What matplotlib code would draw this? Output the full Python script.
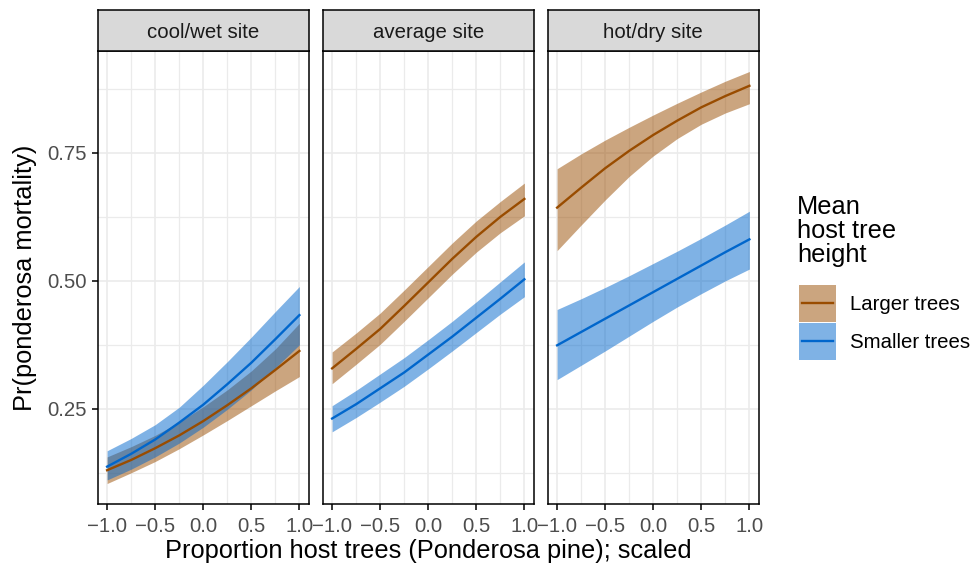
import matplotlib
matplotlib.use("Agg")
import matplotlib.pyplot as plt
from matplotlib.patches import Rectangle
from matplotlib.lines import Line2D

plt.rcParams['font.family'] = ['Liberation Sans', 'DejaVu Sans']

# proportion host trees (scaled)
x = [-1.0, -0.75, -0.5, -0.25, 0.0, 0.25, 0.5, 0.75, 1.0]
sites = ["cool/wet site", "average site", "hot/dry site"]

# Larger trees: fit, lower, upper per site
large_fit = [
    [0.130, 0.150, 0.173, 0.198, 0.226, 0.257, 0.290, 0.326, 0.363],
    [0.329, 0.367, 0.406, 0.451, 0.497, 0.543, 0.586, 0.625, 0.660],
    [0.643, 0.682, 0.720, 0.754, 0.785, 0.813, 0.839, 0.861, 0.881],
]
large_lo = [
    [0.104, 0.125, 0.147, 0.172, 0.199, 0.227, 0.256, 0.285, 0.313],
    [0.299, 0.337, 0.376, 0.421, 0.467, 0.513, 0.556, 0.594, 0.627],
    [0.559, 0.609, 0.658, 0.704, 0.744, 0.778, 0.806, 0.828, 0.846],
]
large_hi = [
    [0.156, 0.176, 0.198, 0.224, 0.254, 0.287, 0.324, 0.367, 0.417],
    [0.361, 0.398, 0.437, 0.482, 0.528, 0.574, 0.617, 0.655, 0.691],
    [0.719, 0.748, 0.775, 0.800, 0.824, 0.847, 0.869, 0.890, 0.909],
]

# Smaller trees
small_fit = [
    [0.137, 0.162, 0.190, 0.223, 0.258, 0.298, 0.340, 0.386, 0.433],
    [0.231, 0.259, 0.290, 0.321, 0.356, 0.391, 0.428, 0.465, 0.503],
    [0.374, 0.400, 0.426, 0.452, 0.478, 0.504, 0.530, 0.556, 0.581],
]
small_lo = [
    [0.111, 0.132, 0.156, 0.183, 0.214, 0.249, 0.287, 0.330, 0.375],
    [0.205, 0.233, 0.263, 0.294, 0.328, 0.363, 0.399, 0.435, 0.469],
    [0.307, 0.335, 0.363, 0.392, 0.421, 0.449, 0.475, 0.500, 0.523],
]
small_hi = [
    [0.168, 0.192, 0.219, 0.253, 0.296, 0.342, 0.390, 0.440, 0.489],
    [0.256, 0.286, 0.318, 0.350, 0.385, 0.421, 0.459, 0.498, 0.537],
    [0.444, 0.465, 0.487, 0.510, 0.534, 0.558, 0.583, 0.609, 0.636],
]

groups = ["Larger trees", "Smaller trees"]
legend_title = "Mean\nhost tree\nheight"
col_large = "#994C00"
col_small = "#0066CC"


class RibbonKey:
    # filled square with the line through its middle, like ggplot's key
    def legend_artist(self, legend, orig_handle, fontsize, handlebox):
        x0, y0 = -handlebox.xdescent, -handlebox.ydescent
        w, h = handlebox.width, handlebox.height
        c = orig_handle.get_color()
        rect = Rectangle((x0, y0), w, h, facecolor=c, alpha=0.5, linewidth=0,
                         transform=handlebox.get_transform())
        ln = Line2D([x0 + 0.08 * w, x0 + 0.92 * w], [y0 + h / 2, y0 + h / 2],
                    color=c, linewidth=1.7, transform=handlebox.get_transform())
        handlebox.add_artist(rect)
        handlebox.add_artist(ln)
        return rect


W, H = 971, 565
fig = plt.figure(figsize=(W / 100, H / 100), dpi=100)

panel_top, panel_bot = 51, 504
strip_h = 41
left0, pw, step = 97.5, 211.5, 225
fs = 14.7

for i, site in enumerate(sites):
    l = left0 + i * step
    ax = fig.add_axes([l / W, 1 - panel_bot / H, pw / W, (panel_bot - panel_top) / H])
    ax.set_xlim(-1.1, 1.1)
    ax.set_ylim(0.064, 0.949)
    ax.set_xticks([-1.0, -0.5, 0.0, 0.5, 1.0])
    ax.set_xticks([-0.75, -0.25, 0.25, 0.75], minor=True)
    ax.set_yticks([0.25, 0.50, 0.75])
    ax.set_yticks([0.125, 0.375, 0.625, 0.875], minor=True)
    ax.set_xticklabels(["\u22121.0", "\u22120.5", "0.0", "0.5", "1.0"])
    ax.tick_params(which='major', length=4.5, width=1.1, color='black',
                   labelsize=fs, labelcolor='#4D4D4D')
    ax.tick_params(axis='x', which='major', pad=4.5)
    ax.tick_params(axis='y', which='major', pad=3.5)
    ax.tick_params(which='minor', length=0)
    if i == 0:
        ax.set_yticklabels(["0.25", "0.50", "0.75"])
    else:
        ax.set_yticklabels([])
        ax.tick_params(axis='y', which='major', length=0)
    ax.grid(which='major', color='#EBEBEB', linewidth=1.2)
    ax.grid(which='minor', color='#EBEBEB', linewidth=0.9)
    ax.set_axisbelow(True)
    for s in ax.spines.values():
        s.set_color('black')
        s.set_linewidth(1.1)

    ax.fill_between(x, large_lo[i], large_hi[i], color=col_large, alpha=0.5, linewidth=0)
    ax.fill_between(x, small_lo[i], small_hi[i], color=col_small, alpha=0.5, linewidth=0)
    ax.plot(x, large_fit[i], color=col_large, linewidth=1.7)
    ax.plot(x, small_fit[i], color=col_small, linewidth=1.7)

    sax = fig.add_axes([l / W, 1 - panel_top / H, pw / W, strip_h / H])
    sax.set_facecolor('#D9D9D9')
    sax.set_xticks([])
    sax.set_yticks([])
    for s in sax.spines.values():
        s.set_color('black')
        s.set_linewidth(1.1)
    sax.text(0.5, 0.46, site, ha='center', va='center', fontsize=fs,
             color='#1A1A1A', transform=sax.transAxes)

right_edge = left0 + 2 * step + pw
fig.text((left0 + right_edge) / 2 / W, 1 - 551 / H,
         "Proportion host trees (Ponderosa pine); scaled",
         ha='center', va='center', fontsize=18.3)
fig.text(25 / W, 1 - 278 / H, "Pr(ponderosa mortality)", rotation=90,
         ha='center', va='center', fontsize=18.3)

fig.text(797 / W, 1 - 195 / H, legend_title, ha='left', va='top',
         fontsize=18.3, linespacing=1.0)

handles = [Line2D([], [], color=col_large), Line2D([], [], color=col_small)]
leg = fig.legend(handles, groups, loc='upper left',
                 bbox_to_anchor=(799 / W, 1 - 285 / H),
                 fontsize=fs, frameon=False, borderpad=0, borderaxespad=0,
                 handlelength=1.8, handleheight=2.41, handletextpad=0.68,
                 labelspacing=0.05,
                 handler_map={Line2D: RibbonKey()})

fig.savefig("out.png", dpi=100)
